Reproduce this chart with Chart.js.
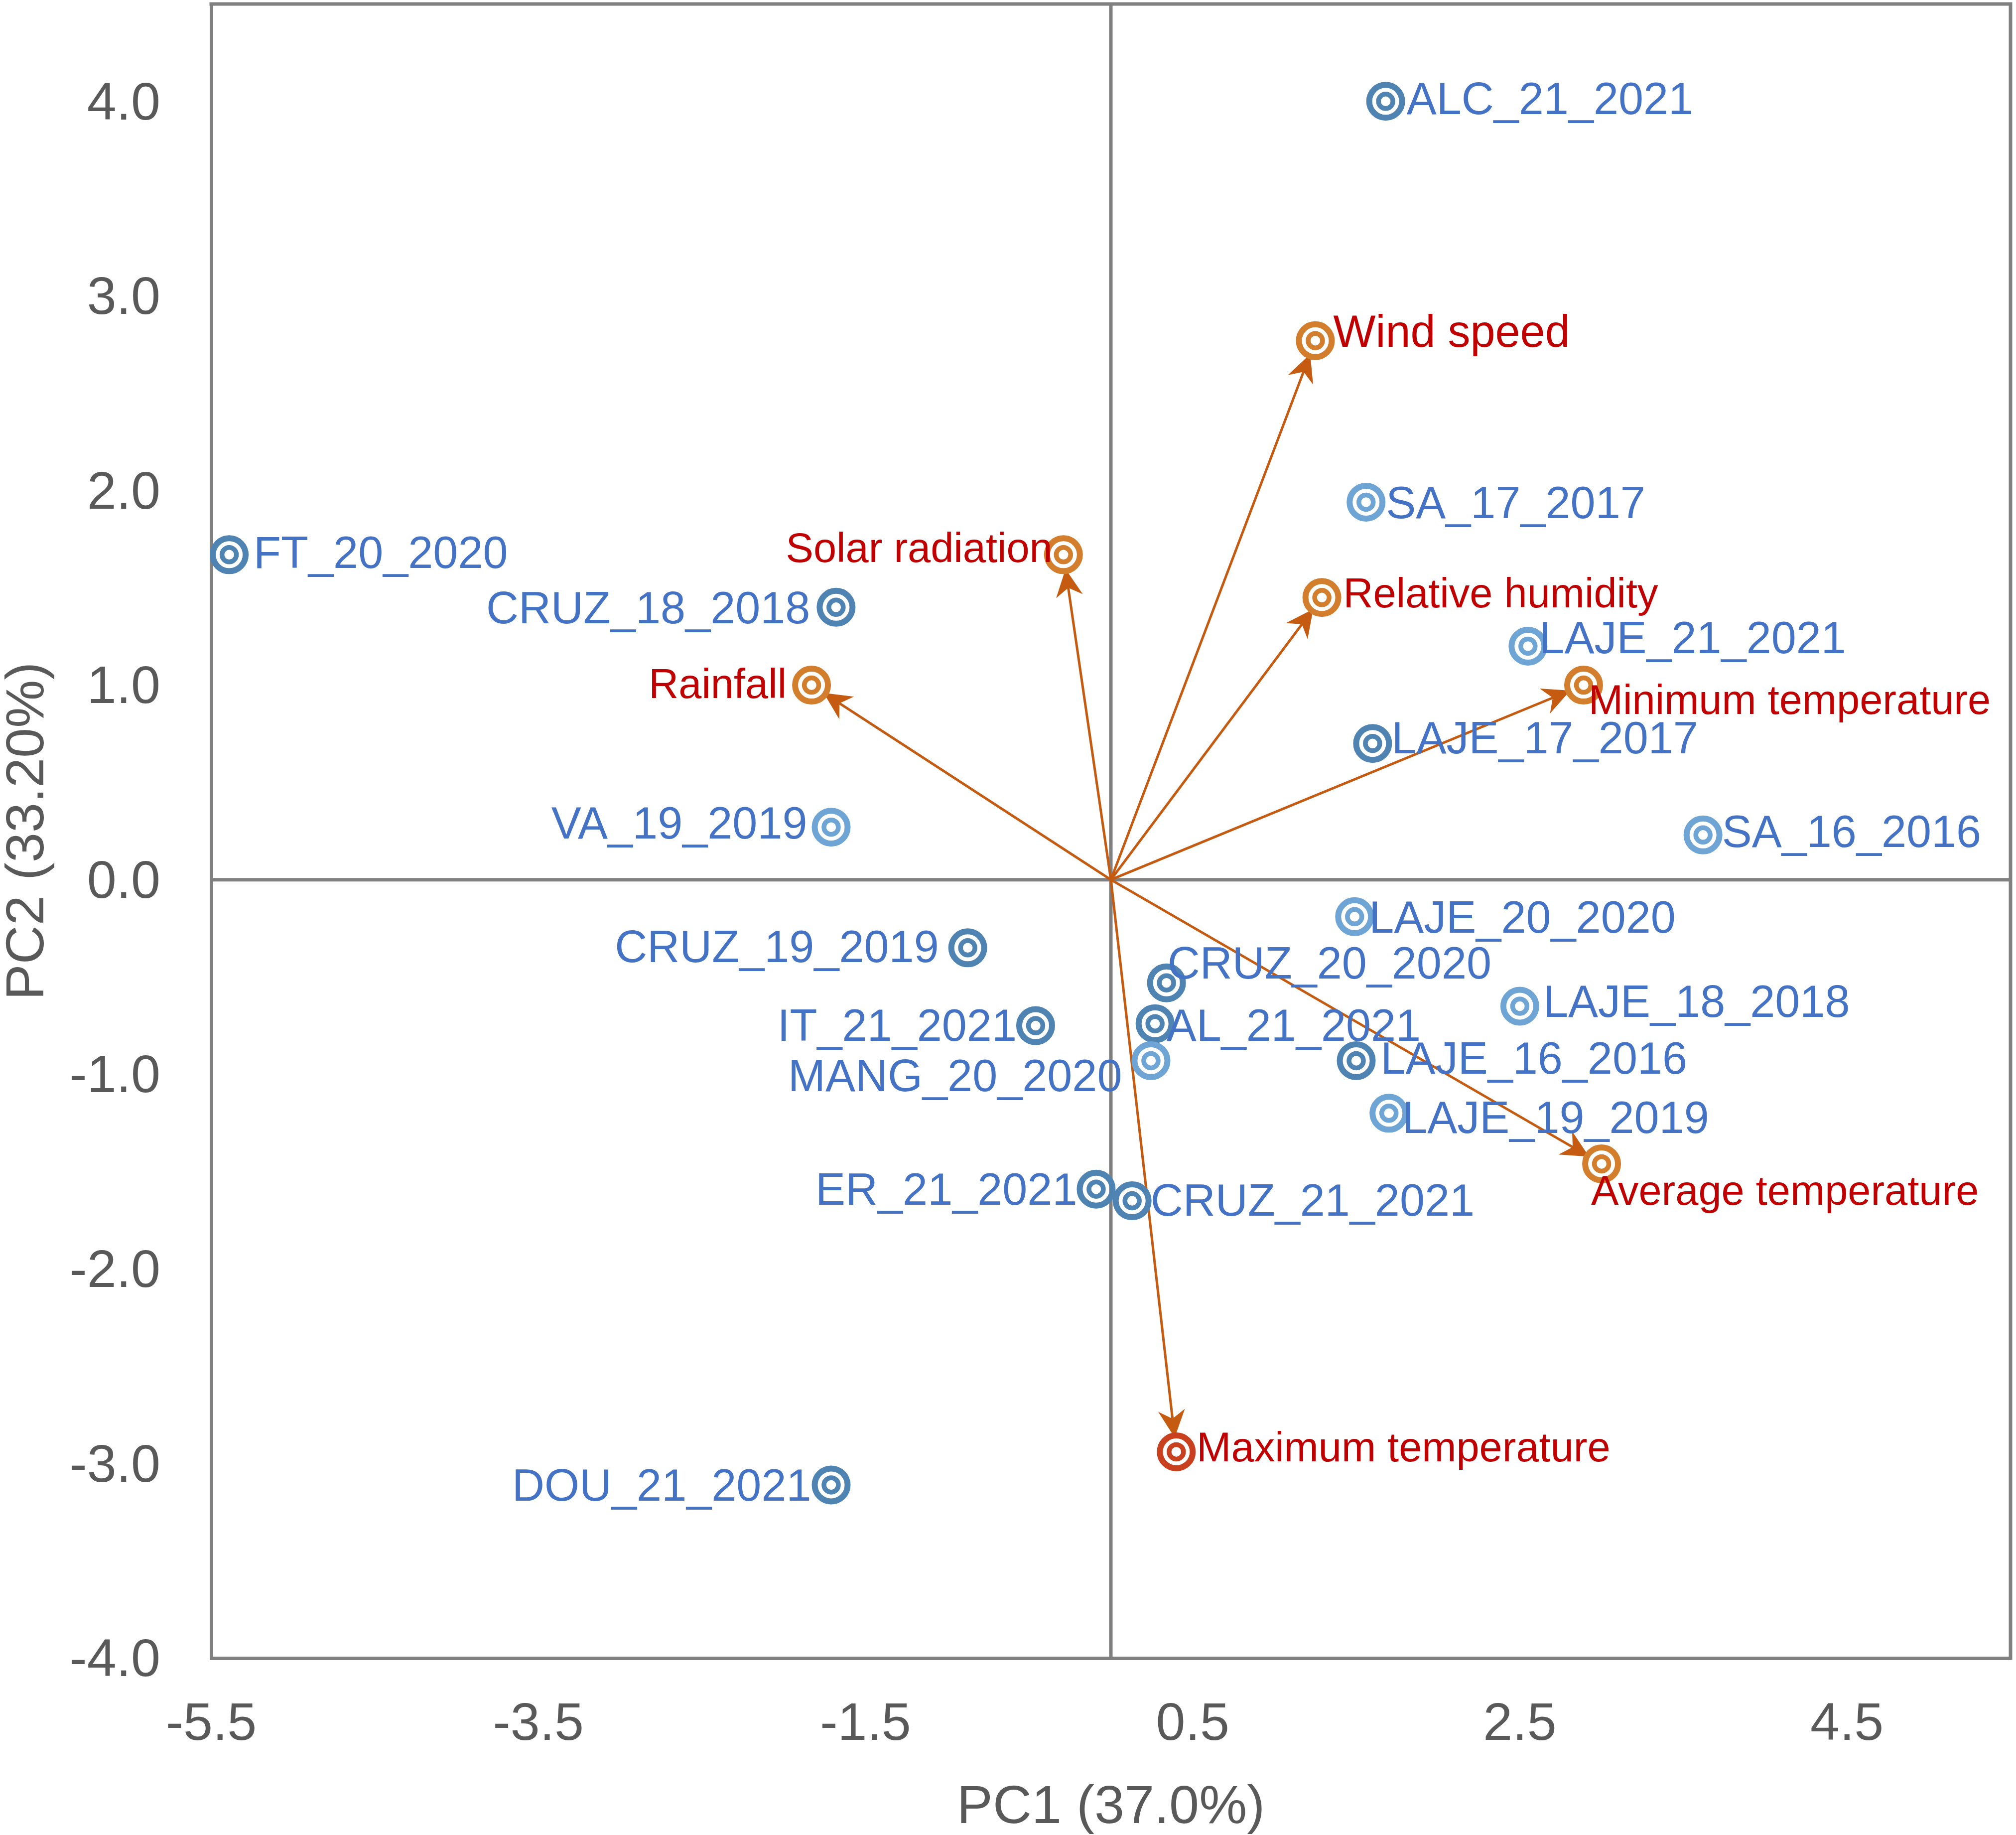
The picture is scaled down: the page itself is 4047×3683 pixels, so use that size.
<!DOCTYPE html>
<html>
<head>
<meta charset="utf-8">
<script src="https://cdn.jsdelivr.net/npm/chart.js@4.4.0/dist/chart.umd.min.js"></script>
<style>
html,body{margin:0;padding:0;background:#ffffff;}
#wrap{width:4047px;height:3683px;}
</style>
</head>
<body>
<div id="wrap"><canvas id="c" width="4047" height="3683"></canvas></div>
<script>
// ---------- DATA ----------
const siteNames = ['ALC_21_2021','SA_17_2017','FT_20_2020','CRUZ_18_2018','LAJE_21_2021','LAJE_17_2017','VA_19_2019','SA_16_2016','LAJE_20_2020','CRUZ_19_2019','CRUZ_20_2020','LAJE_18_2018','IT_21_2021','AL_21_2021','LAJE_16_2016','MANG_20_2020','LAJE_19_2019','ER_21_2021','CRUZ_21_2021','DOU_21_2021'];
const siteX = [1.68, 1.56, -5.39, -1.68, 2.55, 1.60, -1.71, 3.62, 1.49, -0.875, 0.34, 2.50, -0.46, 0.27, 1.50, 0.245, 1.70, -0.09, 0.13, -1.71];
const siteY = [4.00, 1.94, 1.67, 1.40, 1.20, 0.70, 0.27, 0.23, -0.19, -0.35, -0.53, -0.65, -0.75, -0.74, -0.93, -0.93, -1.20, -1.59, -1.65, -3.11];
const siteShade = ['dark','light','dark','dark','light','dark','light','light','light','dark','dark','light','dark','dark','dark','light','light','dark','dark','dark'];

const varNames = ['Wind speed','Solar radiation','Relative humidity','Rainfall','Minimum temperature','Average temperature','Maximum temperature'];
const varX = [1.25, -0.29, 1.29, -1.83, 2.89, 3.00, 0.40];
const varY = [2.77, 1.67, 1.45, 1.00, 1.00, -1.46, -2.94];

const xTickValues = [-5.5, -3.5, -1.5, 0.5, 2.5, 4.5];
const yTickValues = [-4, -3, -2, -1, 0, 1, 2, 3, 4];
const xTitle = 'PC1 (37.0%)';
const yTitle = 'PC2 (33.20%)';

// ---------- LAYOUT / STYLE ----------
// label placement relative to marker: [textAlign, dx px, dy px, font px]
const siteLabelPlace = [
  ['left',42,-6],['left',40,0],['left',49,-5],['right',-52,0],['left',23,-18],
  ['left',38,-12],['right',-48,-9],['left',38,-8],['left',29,0],['right',-58,-3],
  ['left',2,-40],['left',47,-10],['right',-38,-1],['left',23,3],['left',49,-6],
  ['right',-58,29],['left',27,8],['right',-38,0],['left',37,-2],['right',-40,0]
];
const varLabelPlace = [
  ['left',36,-20,90],['right',-22,-15,83],['left',43,-10,83],['right',-50,-4,83],
  ['left',10,28,83],['left',-21,52,83],['left',41,-11,83]
];
const textNudge = 7;
const FONT = '"Liberation Sans", Arial, Helvetica, sans-serif';
const axisGray = '#808080';
const tickGray = '#595959';
const siteTextColor = '#4472C4';
const varTextColor = '#C00000';
const arrowColor = '#C55A11';
const shadeColor = {dark:'#4F84B2', light:'#6FA5D5'};
const siteColors = siteShade.map(s => shadeColor[s]);
const varColors = varNames.map((n,i) => i === 6 ? '#C9401E' : '#D27E2C');

const decor = {
  id: 'decor',
  beforeDatasetsDraw(chart) {
    const {ctx, chartArea: a, scales: {x, y}} = chart;
    const x0 = x.getPixelForValue(0), y0 = y.getPixelForValue(0);
    ctx.save();
    ctx.strokeStyle = axisGray;
    ctx.lineWidth = 7;
    ctx.beginPath();
    ctx.moveTo(a.left, y0); ctx.lineTo(a.right, y0);
    ctx.moveTo(x0, a.top); ctx.lineTo(x0, a.bottom);
    ctx.stroke();
    ctx.beginPath();
    ctx.moveTo(a.left - 3.5, a.top); ctx.lineTo(a.right, a.top); ctx.lineTo(a.right, a.bottom + 3.5);
    ctx.stroke();
    // arrows from origin to variable points
    ctx.strokeStyle = arrowColor; ctx.fillStyle = arrowColor; ctx.lineWidth = 5;
    varX.forEach((vx, i) => {
      const px = x.getPixelForValue(vx), py = y.getPixelForValue(varY[i]);
      const dx = px - x0, dy = py - y0, L = Math.hypot(dx, dy);
      const ux = dx / L, uy = dy / L;
      const tx = px - ux * 29, ty = py - uy * 29;
      const headLen = 55, half = 27, notch = 38;
      ctx.beginPath();
      ctx.moveTo(x0, y0);
      ctx.lineTo(tx - ux * notch, ty - uy * notch);
      ctx.stroke();
      ctx.beginPath();
      ctx.moveTo(tx, ty);
      ctx.lineTo(tx - ux * headLen - uy * half, ty - uy * headLen + ux * half);
      ctx.lineTo(tx - ux * notch, ty - uy * notch);
      ctx.lineTo(tx - ux * headLen + uy * half, ty - uy * headLen - ux * half);
      ctx.closePath();
      ctx.fill();
    });
    ctx.restore();
  },
  afterDatasetsDraw(chart) {
    const {ctx, scales: {x, y}} = chart;
    ctx.save();
    ctx.textBaseline = 'middle';
    ctx.font = '90px ' + FONT;
    ctx.fillStyle = siteTextColor;
    siteNames.forEach((n, i) => {
      const p = siteLabelPlace[i];
      ctx.textAlign = p[0];
      ctx.fillText(n, x.getPixelForValue(siteX[i]) + p[1], y.getPixelForValue(siteY[i]) + p[2] + textNudge);
    });
    ctx.fillStyle = varTextColor;
    varNames.forEach((n, i) => {
      const p = varLabelPlace[i];
      ctx.font = p[3] + 'px ' + FONT;
      ctx.textAlign = p[0];
      ctx.fillText(n, x.getPixelForValue(varX[i]) + p[1], y.getPixelForValue(varY[i]) + p[2] + textNudge);
    });
    ctx.restore();
  }
};

const pts = (xs, ys) => xs.map((v, i) => ({x: v, y: ys[i]}));
const ring = (data, colors, r, w) => ({
  type: 'scatter', data, showLine: false,
  pointRadius: r, pointHoverRadius: r, pointBorderWidth: w, pointHoverBorderWidth: w,
  pointBorderColor: colors, pointBackgroundColor: 'rgba(0,0,0,0)', clip: false
});

new Chart(document.getElementById('c'), {
  type: 'scatter',
  data: {
    datasets: [
      ring(pts(siteX, siteY), siteColors, 33, 12),
      ring(pts(siteX, siteY), siteColors, 14.5, 9.5),
      ring(pts(varX, varY), varColors, 33, 12),
      ring(pts(varX, varY), varColors, 14.5, 9.5)
    ]
  },
  options: {
    responsive: false,
    devicePixelRatio: 1,
    animation: false,
    events: [],
    layout: {autoPadding: false, padding: {top: 8, right: 11, left: 0, bottom: 0}},
    plugins: {legend: {display: false}, tooltip: {enabled: false}},
    scales: {
      x: {
        type: 'linear', min: -5.5, max: 5.5,
        afterBuildTicks: s => { s.ticks = xTickValues.map(v => ({value: v})); },
        afterFit: s => { s.height = 355; s.paddingLeft = 0; s.paddingRight = 0; s.paddingTop = 0; s.paddingBottom = 0; },
        grid: {display: false, drawTicks: false},
        border: {display: true, color: axisGray, width: 7},
        ticks: {autoSkip: false, maxRotation: 0, minRotation: 0, padding: 71, color: tickGray,
                font: {family: FONT, size: 106}, callback: v => Number(v).toFixed(1)},
        title: {display: true, text: xTitle, color: tickGray, font: {family: FONT, size: 108, lineHeight: 1}, padding: {top: 0, bottom: 0}}
      },
      y: {
        type: 'linear', min: -4, max: 4.5,
        afterBuildTicks: s => { s.ticks = yTickValues.map(v => ({value: v})); },
        afterFit: s => { s.width = 424; s.paddingLeft = 0; s.paddingRight = 0; s.paddingTop = 0; s.paddingBottom = 0; },
        grid: {display: false, drawTicks: false},
        border: {display: true, color: axisGray, width: 7},
        ticks: {autoSkip: false, padding: 102, labelOffset: 7, color: tickGray,
                font: {family: FONT, size: 106}, callback: v => Number(v).toFixed(1)},
        title: {display: true, text: yTitle, color: tickGray, font: {family: FONT, size: 108, lineHeight: 1}, padding: {top: 3, bottom: 0}}
      }
    }
  },
  plugins: [decor]
});
</script>
</body>
</html>
